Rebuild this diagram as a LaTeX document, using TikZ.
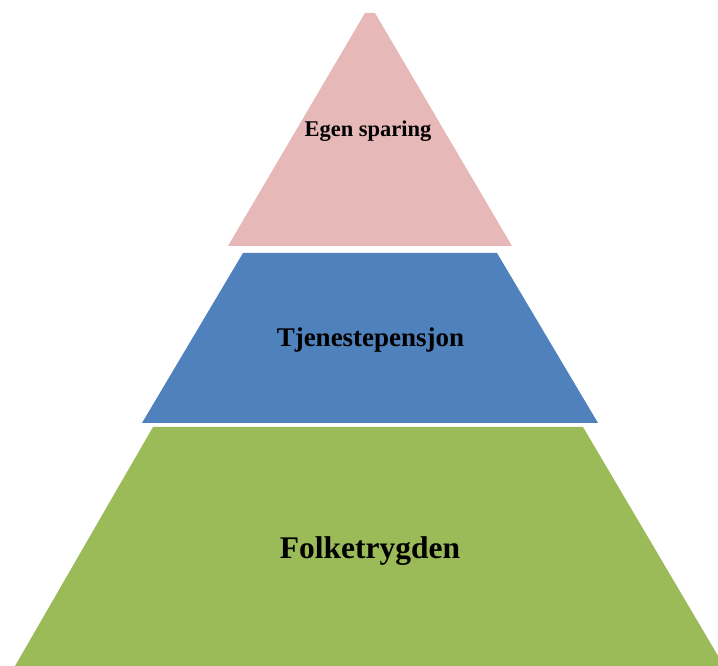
\documentclass[tikz,border=0pt]{standalone}
\usepackage{fontspec}
\setmainfont{Liberation Serif}
\usepackage{tikz}
\definecolor{sparepink}{HTML}{E6B8B7}
\definecolor{pensjonblue}{HTML}{4F81BD}
\definecolor{trygdgreen}{HTML}{9BBB59}
\def\toplayer{(365,653) -- (375,653) -- (512,420) -- (228,420) -- cycle}
\def\midlayer{(243,413) -- (497,413) -- (598,243) -- (142,243) -- cycle}
\def\baselayer{(153,239) -- (583,239) -- (724,0) -- (15,0) -- cycle}

\begin{document}
\begin{tikzpicture}[x=1pt,y=1pt]
				\useasboundingbox (0,0) rectangle (718,666);
				\clip (0,0) rectangle (718,666);
				
				%the three layers of the pyramid
				\fill [sparepink] \toplayer;
				\fill [pensjonblue] \midlayer;
				\fill [trygdgreen] \baselayer;
				
				\node (egen) [anchor=base, font=\fontsize{22.5}{26}\selectfont\bfseries] at (368,529){Egen sparing};
				\node (tjeneste) [anchor=base, font=\fontsize{27}{31}\selectfont\bfseries] at (370.5,319){Tjenestepensjon};
				\node (folke) [anchor=base, font=\fontsize{31.5}{36}\selectfont\bfseries] at (370,107){Folketrygden};
			\end{tikzpicture}
\end{document}
